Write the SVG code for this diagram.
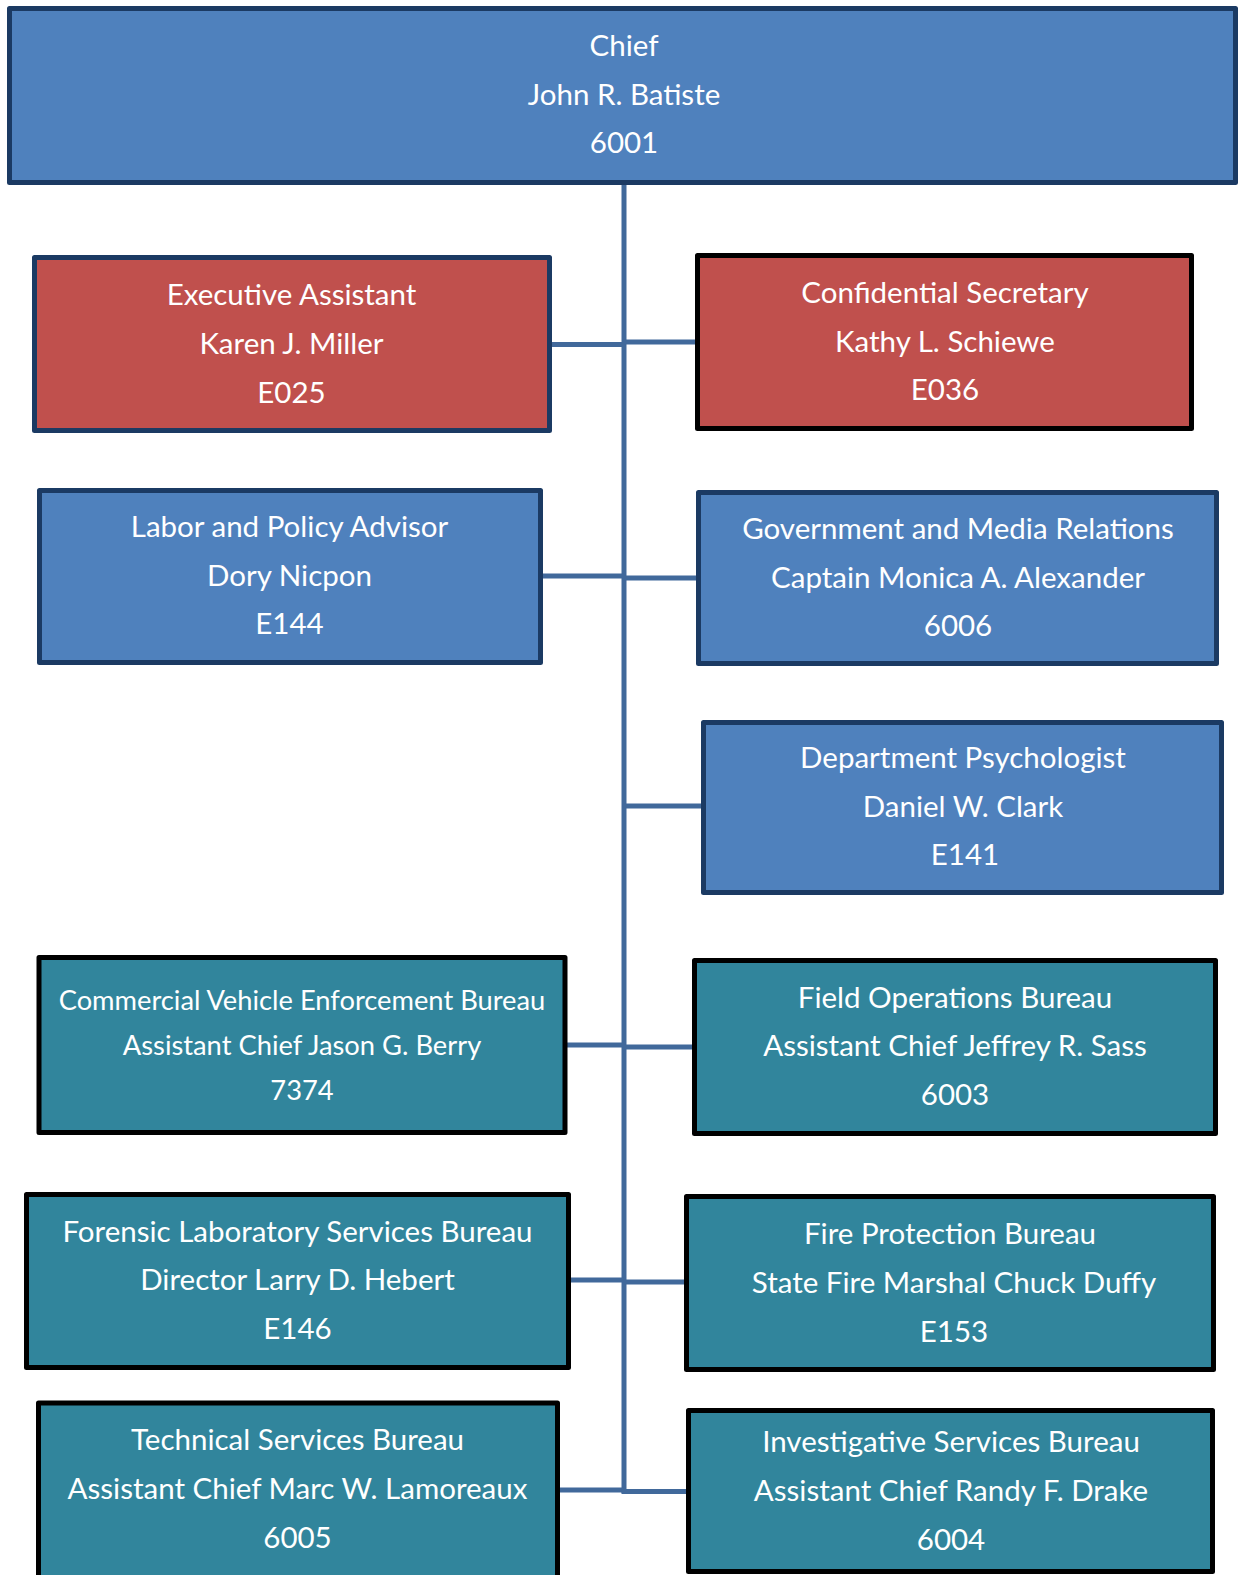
<svg xmlns="http://www.w3.org/2000/svg" width="1239" height="1575" viewBox="0 0 1239 1575">
<style>
.box{stroke-width:5;stroke-linejoin:round}
.blue{fill:#4F81BD}
.red{fill:#C0504D}
.teal{fill:#31859C}
.nav{stroke:#1B3A63}
.blk{stroke:#000}
.conn line{stroke:#41699B;stroke-width:5}
text{font-family:"Lato","Open Sans","Liberation Sans",sans-serif;font-size:29.5px;fill:#fff;text-anchor:middle}
.sm{font-size:27.3px}
</style>
<rect width="1239" height="1575" fill="#fff"/>
<g id="connectors" class="conn">
<line x1="624" y1="183" x2="624" y2="1493"/>
<line x1="550" y1="344.5" x2="624" y2="344.5"/>
<line x1="624" y1="342" x2="697" y2="342"/>
<line x1="541" y1="576" x2="624" y2="576"/>
<line x1="624" y1="578" x2="698" y2="578"/>
<line x1="624" y1="806" x2="703" y2="806"/>
<line x1="565" y1="1045" x2="624" y2="1045"/>
<line x1="624" y1="1047" x2="694" y2="1047"/>
<line x1="569" y1="1280" x2="624" y2="1280"/>
<line x1="624" y1="1282" x2="686" y2="1282"/>
<line x1="557" y1="1490" x2="624" y2="1490"/>
<line x1="621.5" y1="1491.5" x2="688" y2="1491.5"/>
</g>
<g id="chief">
<rect class="box blue nav" x="9.5" y="8.5" width="1226" height="174"/>
<text x="624" y="56">Chief</text>
<text x="624" y="105">John R. Batiste</text>
<text x="624" y="153">6001</text>
</g>
<g id="exec-assistant">
<rect class="box red nav" x="34.5" y="257.5" width="515" height="173"/>
<text x="291.5" y="305">Executive Assistant</text>
<text x="291.5" y="354">Karen J. Miller</text>
<text x="291.5" y="403">E025</text>
</g>
<g id="conf-secretary">
<rect class="box red blk" x="697.5" y="255.5" width="494" height="173"/>
<text x="945" y="303">Confidential Secretary</text>
<text x="945" y="352">Kathy L. Schiewe</text>
<text x="945" y="400">E036</text>
</g>
<g id="labor-advisor">
<rect class="box blue nav" x="39.5" y="490.5" width="501" height="172"/>
<text x="289.5" y="537">Labor and Policy Advisor</text>
<text x="289.5" y="586">Dory Nicpon</text>
<text x="289.5" y="634">E144</text>
</g>
<g id="gov-media">
<rect class="box blue nav" x="698.5" y="492.5" width="518" height="171"/>
<text x="958" y="539">Government and Media Relations</text>
<text x="958" y="588">Captain Monica A. Alexander</text>
<text x="958" y="636">6006</text>
</g>
<g id="psychologist">
<rect class="box blue nav" x="703.5" y="722.5" width="518" height="170"/>
<text x="963" y="768">Department Psychologist</text>
<text x="963" y="817">Daniel W. Clark</text>
<text x="965" y="865">E141</text>
</g>
<g id="commercial-vehicle">
<rect class="box teal blk" x="39" y="957.5" width="526" height="175"/>
<text class="sm" x="302" y="1010">Commercial Vehicle Enforcement Bureau</text>
<text class="sm" x="302" y="1055">Assistant Chief Jason G. Berry</text>
<text class="sm" x="302" y="1100">7374</text>
</g>
<g id="field-ops">
<rect class="box teal blk" x="694.5" y="960.5" width="521" height="173"/>
<text x="955" y="1008">Field Operations Bureau</text>
<text x="955" y="1056">Assistant Chief Jeffrey R. Sass</text>
<text x="955" y="1105">6003</text>
</g>
<g id="forensic-lab">
<rect class="box teal blk" x="26.5" y="1194.5" width="542" height="173"/>
<text x="297.5" y="1242">Forensic Laboratory Services Bureau</text>
<text x="297.5" y="1290">Director Larry D. Hebert</text>
<text x="297.5" y="1339">E146</text>
</g>
<g id="fire-protection">
<rect class="box teal blk" x="686.5" y="1196.5" width="527" height="173"/>
<text x="950" y="1244">Fire Protection Bureau</text>
<text x="954" y="1293">State Fire Marshal Chuck Duffy</text>
<text x="954" y="1342">E153</text>
</g>
<g id="technical-services">
<rect class="box teal blk" x="38.5" y="1403" width="519" height="180"/>
<text x="297.5" y="1450">Technical Services Bureau</text>
<text x="297.5" y="1499">Assistant Chief Marc W. Lamoreaux</text>
<text x="297.5" y="1548">6005</text>
</g>
<g id="investigative-services">
<rect class="box teal blk" x="688.5" y="1410.5" width="524" height="161"/>
<text x="951" y="1452">Investigative Services Bureau</text>
<text x="951" y="1501">Assistant Chief Randy F. Drake</text>
<text x="951" y="1550">6004</text>
</g>
</svg>
